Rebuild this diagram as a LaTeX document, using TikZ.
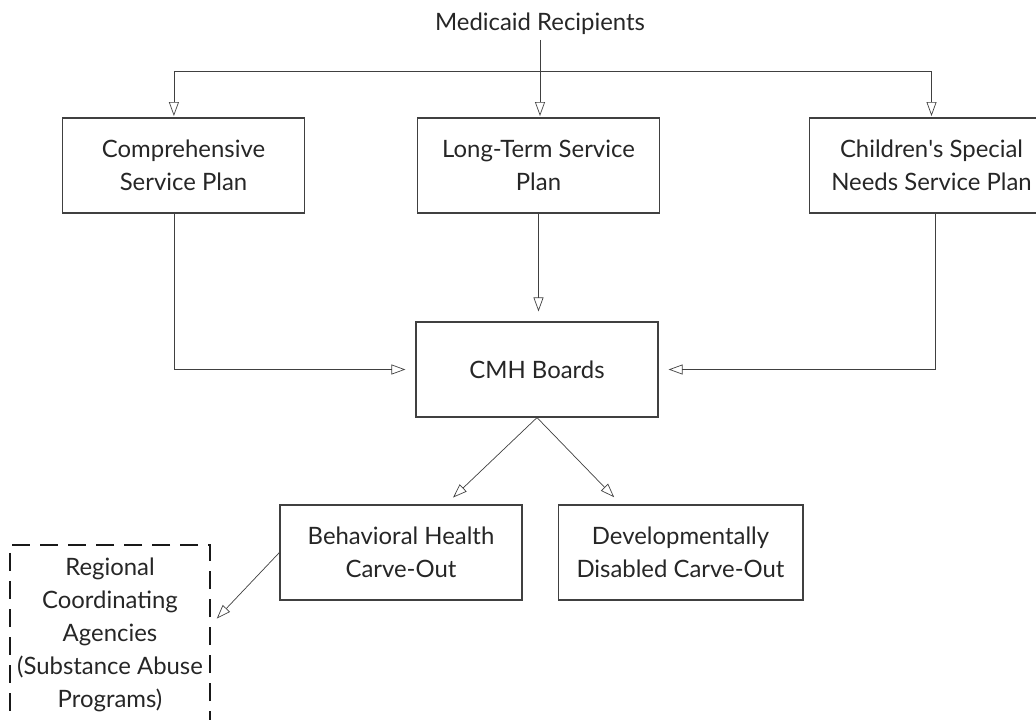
\documentclass[tikz,border=0pt]{standalone}
\usepackage{fontspec}
\setmainfont{Lato}
\usetikzlibrary{arrows.meta,positioning,calc}

\begin{document}
\begin{tikzpicture}
  [x=0.025cm,y=-0.025cm,
   lineC/.style={draw=black!75,line width=0.5pt},
   boxN/.style={draw=black!75,line width=0.8pt,minimum width=6.05cm,minimum height=2.375cm,
                align=center,text=black!85,font=\fontsize{17}{23.5}\selectfont},
   rcaN/.style={boxN,draw=black!90,line width=1.8pt,dash pattern=on 0.45cm off 0.25cm,
                minimum width=5cm,minimum height=4.5cm},
   arr/.style={lineC,-{Triangle[open,length=0.35cm,width=0.25cm]},shorten >=0.25cm},
  ]
  \useasboundingbox (0,0) rectangle (1036,719);

  % top level
  \node[text=black!85,font=\fontsize{17}{23.5}\selectfont] (med) at (540,24) {Medicaid Recipients};
  \coordinate (bus) at (540,71);

  % plans
  \node[boxN] (csp) at (183.5,165.5) {Comprehensive\\Service Plan};
  \node[boxN] (ltsp) at (538.5,165.5) {Long-Term Service\\Plan};
  \node[boxN,minimum width=6.08cm] (cssp) at (931.5,165.5) {Children\textquotesingle s Special\\Needs Service Plan};

  \node[boxN] (cmh) at (537,369.5) {CMH Boards};

  % carve-outs
  \node[boxN] (bh) at (401,552.5) {Behavioral Health\\Carve-Out};
  \node[boxN,minimum width=6.12cm] (ddc) at (680.5,552.5) {Developmentally\\Disabled Carve-Out};
  \node[rcaN] (rca) at (110,635) {Regional\\Coordinating\\Agencies\\(Substance Abuse\\Programs)};

  % connectors
  \draw[arr,shorten >=1pt] (med.south) -- (med.south |- ltsp.north);
  \draw[lineC] ([xshift=-0.24cm]csp.north |- bus) -- (cssp.north |- bus);
  \draw[arr,shorten >=1pt] ([xshift=-0.24cm]csp.north |- bus) -- ([xshift=-0.24cm]csp.north);
  \draw[arr,shorten >=1pt] (cssp.north |- bus) -- (cssp.north);

  \draw[arr] ([xshift=-0.22cm]csp.south) |- (cmh.west);
  \draw[arr] (ltsp.south) -- (ltsp.south |- cmh.north);
  \draw[arr] ([xshift=0.09cm]cssp.south) |- (cmh.east);

  \draw[arr] (cmh.south) -- (bh.47);
  \draw[arr] (cmh.south) -- (ddc.141);
  \draw[arr,shorten >=0.2cm] (bh.west) -- (rca.6);
\end{tikzpicture}
\end{document}
